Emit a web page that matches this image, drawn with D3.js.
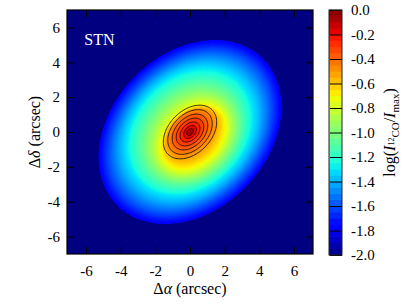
<!DOCTYPE html>
<html>
<head>
<meta charset="utf-8">
<script src="https://cdn.jsdelivr.net/npm/d3@7"></script>
<style>
  body { margin: 0; background: #fff; }
  text { font-family: "Liberation Serif", "DejaVu Serif", serif; }
</style>
</head>
<body>
<svg id="chart" width="407" height="305"></svg>
<script>
// disc profile: log intensity vs ellipse size (arcsec)
const profileLevel = [0, -0.1, -0.2, -0.3, -0.4, -0.5, -0.6, -0.7, -0.8, -0.9, -1.0, -1.1, -1.2, -1.3, -1.4, -1.5, -1.6, -1.7, -1.78];
const profileA = [0, 0.13, 0.38, 0.75, 1.2, 1.6, 1.85, 2.1, 2.35, 2.6, 2.9, 3.25, 3.65, 4.05, 4.5, 4.9, 5.3, 5.65, 5.95];
const profileB = [0, 0.09, 0.26, 0.51, 0.82, 1.1, 1.3, 1.5, 1.75, 2.0, 2.3, 2.6, 2.9, 3.2, 3.5, 3.75, 4.0, 4.28, 4.5];
const profileDx = [0, 0, 0, 0, 0, 0.05, 0.12, 0.18, 0.18, 0.14, 0.1, 0.05, 0, 0, 0, 0, 0, 0, 0];
const profileDy = [0, 0, 0, 0, 0, -0.05, -0.18, -0.28, -0.3, -0.25, -0.2, -0.12, -0.06, 0, 0, 0, 0, 0, 0];
const discAngle = 45; // major axis towards upper right

// black contours (semi-major axes, arcsec)
const contourA = [1.8, 1.5, 1.2, 0.93, 0.67, 0.43, 0.22];
const contourRatio = 0.68;

const xTicks = [-6, -4, -2, 0, 2, 4, 6];
const yTicks = [-6, -4, -2, 0, 2, 4, 6];
const cbarTicks = [0.0, -0.2, -0.4, -0.6, -0.8, -1.0, -1.2, -1.4, -1.6, -1.8, -2.0];
const panelLabel = "STN";

const margin = { top: 10, left: 67 };
const width = 246, height = 244;
const svg = d3.select('#chart');

const x = d3.scaleLinear().domain([-7.1, 7.1]).range([margin.left, margin.left + width]);
const y = d3.scaleLinear().domain([-7, 7]).range([margin.top + height, margin.top]);

// matplotlib jet
const jetR = d3.scaleLinear().domain([0, 0.35, 0.66, 0.89, 1]).range([0, 0, 1, 1, 0.5]).clamp(true);
const jetG = d3.scaleLinear().domain([0, 0.125, 0.375, 0.64, 0.91, 1]).range([0, 0, 1, 1, 0, 0]).clamp(true);
const jetB = d3.scaleLinear().domain([0, 0.11, 0.34, 0.65, 1]).range([0.5, 1, 1, 0, 0]).clamp(true);
const norm = d3.scaleLinear().domain([-2, 0]).range([0, 1]).clamp(true);
const jet = v => {
  const t = norm(v);
  return d3.rgb(jetR(t) * 255, jetG(t) * 255, jetB(t) * 255).toString();
};

const step = 0.05;     // colour bar bands
const mapStep = 0.01;  // finer steps for the map itself

const sizeA = d3.scaleLinear().domain(profileLevel).range(profileA);
const sizeB = d3.scaleLinear().domain(profileLevel).range(profileB);
const shiftX = d3.scaleLinear().domain(profileLevel).range(profileDx);
const shiftY = d3.scaleLinear().domain(profileLevel).range(profileDy);

const line = d3.line().x(p => x(p[0])).y(p => y(p[1])).curve(d3.curveLinearClosed);
const th = discAngle * Math.PI / 180;
function ellipse(a, b, cx, cy) {
  return line(d3.range(120).map(i => {
    const t = 2 * Math.PI * i / 120;
    const u = a * Math.cos(t), w = b * Math.sin(t);
    return [cx + u * Math.cos(th) - w * Math.sin(th), cy + u * Math.sin(th) + w * Math.cos(th)];
  }));
}

svg.append('clipPath').attr('id', 'plotClip')
  .append('rect').attr('x', margin.left).attr('y', margin.top).attr('width', width).attr('height', height);

const map = svg.append('g').attr('clip-path', 'url(#plotClip)');

// background (below -2)
map.append('rect')
  .attr('x', margin.left).attr('y', margin.top).attr('width', width).attr('height', height)
  .attr('fill', jet(-2));

// filled levels, outer edge first
const edge = profileLevel[profileLevel.length - 1];
const levels = [edge].concat(d3.range(-177, 0).map(k => k * mapStep));
map.selectAll('.level')
  .data(levels)
  .enter()
  .append('path')
  .attr('class', 'level')
  .attr('d', v => ellipse(sizeA(v), sizeB(v), shiftX(v), shiftY(v)))
  .attr('fill', v => jet(v + mapStep / 2));

map.selectAll('.contour')
  .data(contourA)
  .enter()
  .append('path')
  .attr('class', 'contour')
  .attr('d', a => ellipse(a, a * contourRatio, 0, 0))
  .attr('fill', 'none')
  .attr('stroke', '#000')
  .attr('stroke-width', 0.8);

map.append('text')
  .attr('x', x(-6.1)).attr('y', y(4.98))
  .attr('fill', '#fff')
  .style('font-size', '16px')
  .text(panelLabel);

// axes, ticks pointing inwards
const fmt = d => String(d);
function styleAxis(g) {
  g.select('.domain').remove();
  g.selectAll('.tick line').attr('stroke', '#000').attr('stroke-width', 1);
  g.selectAll('.tick text').attr('fill', '#000').style('font-size', '15px').style('font-family', '"Liberation Serif", serif');
}
svg.append('g').attr('transform', `translate(0,${margin.top + height})`)
  .call(d3.axisBottom(x).tickValues(xTicks).tickSize(-7).tickPadding(11).tickFormat(fmt)).call(styleAxis);
svg.append('g').attr('transform', `translate(0,${margin.top})`)
  .call(d3.axisTop(x).tickValues(xTicks).tickSize(-7).tickFormat('')).call(styleAxis);
svg.append('g').attr('transform', `translate(${margin.left},0)`)
  .call(d3.axisLeft(y).tickValues(yTicks).tickSize(-7).tickPadding(7).tickFormat(fmt)).call(styleAxis);
svg.append('g').attr('transform', `translate(${margin.left + width},0)`)
  .call(d3.axisRight(y).tickValues(yTicks).tickSize(-7).tickFormat('')).call(styleAxis);

svg.append('rect')
  .attr('x', margin.left).attr('y', margin.top).attr('width', width).attr('height', height)
  .attr('fill', 'none').attr('stroke', '#000').attr('stroke-width', 1.2);

// axis titles
const xt = svg.append('text')
  .attr('x', x(0)).attr('y', 294)
  .attr('text-anchor', 'middle')
  .style('font-size', '16px');
xt.append('tspan').text('Δ');
xt.append('tspan').style('font-style', 'italic').text('α');
xt.append('tspan').text(' (arcsec)');

const yt = svg.append('text')
  .attr('transform', `translate(40,${y(0)}) rotate(-90)`)
  .attr('text-anchor', 'middle')
  .style('font-size', '16px');
yt.append('tspan').text('Δ');
yt.append('tspan').style('font-style', 'italic').text('δ');
yt.append('tspan').text(' (arcsec)');

// colour bar
const cbX = 329, cbW = 13;
const cb = d3.scaleLinear().domain([-2, 0]).range([255, 10]);
const bands = d3.range(0, 40).map(k => -2 + k * step);
svg.selectAll('.band')
  .data(bands)
  .enter()
  .append('rect')
  .attr('class', 'band')
  .attr('x', cbX)
  .attr('width', cbW)
  .attr('y', v => cb(v + step) - 0.3)
  .attr('height', v => cb(v) - cb(v + step) + 0.6)
  .attr('fill', v => jet(v + step / 2));

svg.append('g').attr('transform', `translate(${cbX + cbW},0)`)
  .call(d3.axisRight(cb).tickValues(cbarTicks).tickSize(-12).tickPadding(9).tickFormat(d => d.toFixed(1)))
  .call(styleAxis);

svg.append('rect')
  .attr('x', cbX).attr('y', 10).attr('width', cbW).attr('height', 245)
  .attr('fill', 'none').attr('stroke', '#222').attr('stroke-width', 1);

const ct = svg.append('text')
  .attr('transform', `translate(395,${cb(-1)}) rotate(-90)`)
  .attr('text-anchor', 'middle')
  .style('font-size', '16px');
ct.append('tspan').text('log(');
ct.append('tspan').style('font-style', 'italic').text('I');
ct.append('tspan').style('font-size', '8px').attr('dy', -1).text('12');
ct.append('tspan').style('font-size', '11px').attr('dy', 5).text('CO');
ct.append('tspan').attr('dy', -4).text('/');
ct.append('tspan').style('font-style', 'italic').text('I');
ct.append('tspan').style('font-size', '11px').attr('dy', 4).text('max');
ct.append('tspan').attr('dy', -4).text(')');
</script>
</body>
</html>
